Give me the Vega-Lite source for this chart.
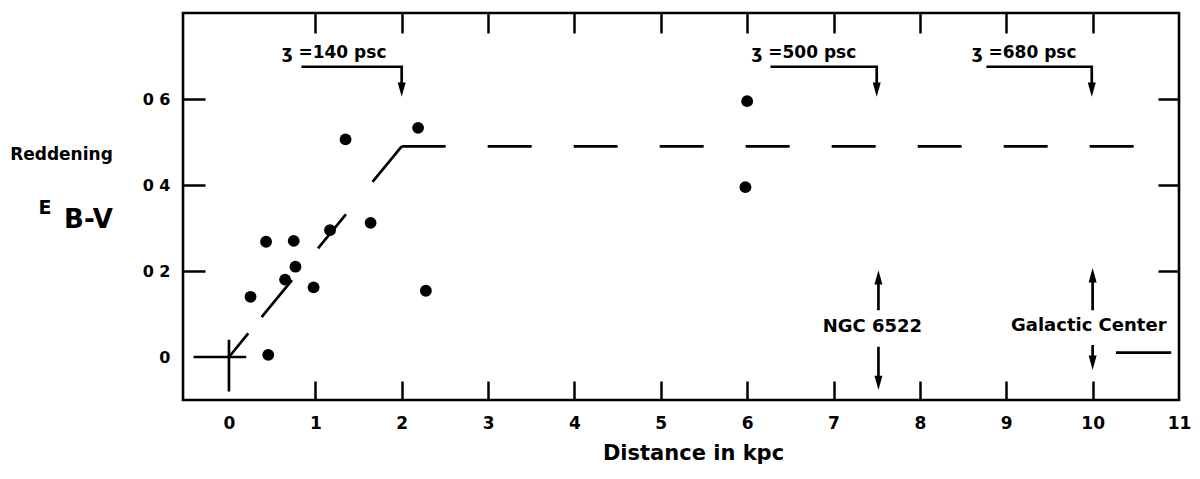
{
  "$schema": "https://vega.github.io/schema/vega-lite/v6.json",
  "width": 996,
  "height": 387,
  "autosize": "none",
  "padding": {"left": 183, "top": 13, "right": 21, "bottom": 79},
  "background": "white",
  "config": {
    "view": {"stroke": "black", "strokeWidth": 2.6},
    "font": "DejaVu Sans",
    "axis": {"domain": false, "grid": false, "tickColor": "black", "tickWidth": 2.5, "labelColor": "black", "titleColor": "black"}
  },
  "layer": [
    {
      "data": {"values": [
        {"d": 0.25, "e": 0.14}, {"d": 0.43, "e": 0.268}, {"d": 0.455, "e": 0.005},
        {"d": 0.65, "e": 0.18}, {"d": 0.75, "e": 0.27}, {"d": 0.77, "e": 0.21},
        {"d": 0.98, "e": 0.162}, {"d": 1.17, "e": 0.295}, {"d": 1.35, "e": 0.506},
        {"d": 1.64, "e": 0.312}, {"d": 2.19, "e": 0.533}, {"d": 2.28, "e": 0.154},
        {"d": 6.0, "e": 0.595}, {"d": 5.98, "e": 0.395}
      ]},
      "mark": {"type": "point", "filled": true, "color": "black", "opacity": 1, "size": 140},
      "encoding": {
        "x": {"field": "d", "type": "quantitative", "scale": {"domain": [-0.532, 11], "nice": false, "zero": false},
          "axis": {"orient": "bottom", "values": [0,1,2,3,4,5,6,7,8,9,10,11], "format": "d", "labelFontSize": 17, "labelFontWeight": "bold", "labelFlush": false, "labelPadding": 34, "tickSize": -19,
            "tickOpacity": {"condition": {"test": "datum.value == 0 || datum.value == 11", "value": 0}, "value": 1},
            "title": "Distance in kpc", "titleFontSize": 21, "titleFontWeight": "bold", "titleX": 510, "titleY": 53, "titleBaseline": "middle"}},
        "y": {"field": "e", "type": "quantitative", "scale": {"domain": [-0.1, 0.8], "nice": false, "zero": false},
          "axis": {"orient": "left", "values": [0, 0.2, 0.4, 0.6], "labelExpr": "datum.value == 0 ? '0' : replace(format(datum.value, '.1f'), '.', ' ')", "labelFontSize": 16, "labelFontWeight": "bold", "labelPadding": 35, "tickSize": -22,
            "tickOpacity": {"condition": {"test": "datum.value == 0", "value": 0}, "value": 1},
            "title": null}}
      }
    },
    {
      "data": {"values": [
        {"seg": "diag", "o": 1, "x": 2.0, "y": 0.49, "style": "diagdash"},
        {"seg": "diag", "o": 2, "x": 0.0, "y": 0.0, "style": "diagdash"},
        {"seg": "flat", "o": 1, "x": 2.0, "y": 0.49, "style": "dashed"},
        {"seg": "flat", "o": 2, "x": 10.5, "y": 0.49, "style": "dashed"},
        {"seg": "crossh", "o": 1, "x": -0.41, "y": 0.0, "style": "solid"},
        {"seg": "crossh", "o": 2, "x": 0.2, "y": 0.0, "style": "solid"},
        {"seg": "crossv", "o": 1, "x": 0.0, "y": 0.04, "style": "solid"},
        {"seg": "crossv", "o": 2, "x": 0.0, "y": -0.08, "style": "solid"},
        {"seg": "gcbar", "o": 1, "x": 10.27, "y": 0.01, "style": "solid"},
        {"seg": "gcbar", "o": 2, "x": 10.91, "y": 0.01, "style": "solid"},
        {"seg": "z140", "o": 1, "x": 0.84, "y": 0.675, "style": "solid"},
        {"seg": "z140", "o": 2, "x": 2.0, "y": 0.675, "style": "solid"},
        {"seg": "z140", "o": 3, "x": 2.0, "y": 0.625, "style": "solid"},
        {"seg": "z500", "o": 1, "x": 6.27, "y": 0.675, "style": "solid"},
        {"seg": "z500", "o": 2, "x": 7.5, "y": 0.675, "style": "solid"},
        {"seg": "z500", "o": 3, "x": 7.5, "y": 0.625, "style": "solid"},
        {"seg": "z680", "o": 1, "x": 8.77, "y": 0.675, "style": "solid"},
        {"seg": "z680", "o": 2, "x": 9.99, "y": 0.675, "style": "solid"},
        {"seg": "z680", "o": 3, "x": 9.99, "y": 0.625, "style": "solid"},
        {"seg": "ngcup", "o": 1, "x": 7.52, "y": 0.109, "style": "solid"},
        {"seg": "ngcup", "o": 2, "x": 7.52, "y": 0.185, "style": "solid"},
        {"seg": "ngcdn", "o": 1, "x": 7.52, "y": 0.024, "style": "solid"},
        {"seg": "ngcdn", "o": 2, "x": 7.52, "y": -0.06, "style": "solid"},
        {"seg": "gcup", "o": 1, "x": 10.0, "y": 0.109, "style": "solid"},
        {"seg": "gcup", "o": 2, "x": 10.0, "y": 0.19, "style": "solid"},
        {"seg": "gcdn", "o": 1, "x": 10.0, "y": 0.028, "style": "solid"},
        {"seg": "gcdn", "o": 2, "x": 10.0, "y": -0.015, "style": "solid"}
      ]},
      "mark": {"type": "line", "color": "black", "strokeWidth": 2.7},
      "encoding": {
        "x": {"field": "x", "type": "quantitative", "scale": {"domain": [-0.532, 11], "nice": false, "zero": false},
          "axis": {"orient": "top", "values": [1,2,3,4,5,6,7,8,9,10], "labels": false, "tickSize": -20, "title": null}},
        "y": {"field": "y", "type": "quantitative", "scale": {"domain": [-0.1, 0.8], "nice": false, "zero": false},
          "axis": {"orient": "right", "values": [0.2, 0.4, 0.6], "labels": false, "tickSize": -21, "title": null}},
        "detail": {"field": "seg"},
        "order": {"field": "o", "type": "quantitative"},
        "strokeDash": {"field": "style", "type": "nominal", "scale": {"domain": ["solid", "dashed", "diagdash"], "range": [[1, 0], [44, 42], [46, 42, 44, 41, 48, 21, 60, 10]]}, "legend": null}
      }
    },
    {
      "data": {"values": [
        {"x": 2.0, "y": 0.605, "dir": "down"},
        {"x": 7.5, "y": 0.605, "dir": "down"},
        {"x": 9.99, "y": 0.605, "dir": "down"},
        {"x": 7.52, "y": 0.202, "dir": "up"},
        {"x": 7.52, "y": -0.077, "dir": "down"},
        {"x": 10.0, "y": 0.207, "dir": "up"},
        {"x": 10.0, "y": -0.03, "dir": "down"}
      ]},
      "mark": {"type": "point", "filled": true, "color": "black", "opacity": 1, "size": 64, "strokeWidth": 0},
      "encoding": {
        "x": {"field": "x", "type": "quantitative", "scale": {"domain": [-0.532, 11], "nice": false, "zero": false}, "axis": null},
        "y": {"field": "y", "type": "quantitative", "scale": {"domain": [-0.1, 0.8], "nice": false, "zero": false}, "axis": null},
        "shape": {"field": "dir", "type": "nominal", "scale": {"domain": ["down", "up"], "range": ["M-1,-3.6L1,-3.6L0,0Z", "M-1,3.6L1,3.6L0,0Z"]}, "legend": null}
      }
    },
    {
      "data": {"values": [
        {"x": 0.61, "y": 0.707, "label": "ʒ =140 psc"},
        {"x": 6.05, "y": 0.707, "label": "ʒ =500 psc"},
        {"x": 8.6, "y": 0.707, "label": "ʒ =680 psc"}
      ]},
      "mark": {"type": "text", "align": "left", "baseline": "middle", "fontSize": 17, "fontWeight": "bold", "color": "black"},
      "encoding": {
        "x": {"field": "x", "type": "quantitative", "scale": {"domain": [-0.532, 11], "nice": false, "zero": false}, "axis": null},
        "y": {"field": "y", "type": "quantitative", "scale": {"domain": [-0.1, 0.8], "nice": false, "zero": false}, "axis": null},
        "text": {"field": "label"}
      }
    },
    {
      "data": {"values": [
        {"x": 7.45, "y": 0.07, "label": "NGC 6522"},
        {"x": 9.955, "y": 0.072, "label": "Galactic Center"}
      ]},
      "mark": {"type": "text", "align": "center", "baseline": "middle", "fontSize": 18, "fontWeight": "bold", "color": "black"},
      "encoding": {
        "x": {"field": "x", "type": "quantitative", "scale": {"domain": [-0.532, 11], "nice": false, "zero": false}, "axis": null},
        "y": {"field": "y", "type": "quantitative", "scale": {"domain": [-0.1, 0.8], "nice": false, "zero": false}, "axis": null},
        "text": {"field": "label"}
      }
    },
    {
      "data": {"values": [{"x": -1.939, "y": 0.47, "label": "Reddening"}]},
      "mark": {"type": "text", "align": "center", "baseline": "middle", "fontSize": 17, "fontWeight": "bold", "color": "black"},
      "encoding": {
        "x": {"field": "x", "type": "quantitative", "scale": {"domain": [-0.532, 11], "nice": false, "zero": false}, "axis": null},
        "y": {"field": "y", "type": "quantitative", "scale": {"domain": [-0.1, 0.8], "nice": false, "zero": false}, "axis": null},
        "text": {"field": "label"}
      }
    },
    {
      "data": {"values": [{"x": -2.13, "y": 0.347, "label": "E"}]},
      "mark": {"type": "text", "align": "center", "baseline": "middle", "fontSize": 19, "fontWeight": "bold", "color": "black"},
      "encoding": {
        "x": {"field": "x", "type": "quantitative", "scale": {"domain": [-0.532, 11], "nice": false, "zero": false}, "axis": null},
        "y": {"field": "y", "type": "quantitative", "scale": {"domain": [-0.1, 0.8], "nice": false, "zero": false}, "axis": null},
        "text": {"field": "label"}
      }
    },
    {
      "data": {"values": [{"x": -1.626, "y": 0.319, "label": "B-V"}]},
      "mark": {"type": "text", "align": "center", "baseline": "middle", "fontSize": 26, "fontWeight": "bold", "color": "black"},
      "encoding": {
        "x": {"field": "x", "type": "quantitative", "scale": {"domain": [-0.532, 11], "nice": false, "zero": false}, "axis": null},
        "y": {"field": "y", "type": "quantitative", "scale": {"domain": [-0.1, 0.8], "nice": false, "zero": false}, "axis": null},
        "text": {"field": "label"}
      }
    }
  ],
  "resolve": {"axis": {"x": "independent", "y": "independent"}}
}
